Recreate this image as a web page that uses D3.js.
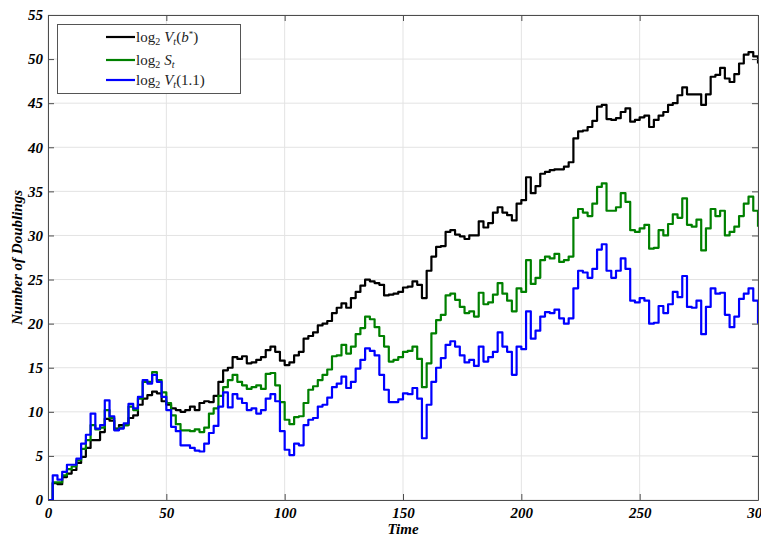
<!DOCTYPE html>
<html><head><meta charset="utf-8">
<script src="https://cdn.jsdelivr.net/npm/d3@7"></script>
<style>
body{margin:0;background:#fff}
.tick text{font-family:"Liberation Serif","Times New Roman",serif;font-weight:bold;font-style:italic;font-size:15px;fill:#000}
</style>
</head><body><svg id="c" width="761" height="536"></svg>
<script>
// time (in steps of 2)
const time = d3.range(0, 301, 2);

const logVbStar = [
 0, 1.9, 1.8, 2.6, 3.0, 3.4, 4.2, 4.9, 5.9, 6.8, 6.8, 7.7, 9.2, 9.0, 8.1, 8.5, 8.5, 9.3, 9.6, 10.8, 11.5, 11.9, 12.3, 12.1, 11.2, 10.8, 10.4, 10.2, 10.0, 10.2, 10.6,
 10.2, 11.0, 11.2, 11.1, 11.8, 13.4, 14.7, 15.0, 16.2, 16.0, 16.3, 15.5, 15.6, 15.9, 16.2, 17.0, 17.4, 16.8, 15.8, 15.3, 15.6, 16.4, 16.8, 18.3, 18.6, 19.0, 19.8, 20.0, 20.3, 21.2,
 21.8, 22.3, 21.8, 22.9, 23.6, 24.3, 25.0, 24.8, 24.6, 24.4, 23.2, 23.3, 23.4, 23.6, 24.1, 24.2, 24.8, 24.4, 22.9, 26.0, 27.6, 28.7, 28.8, 30.4, 30.6, 30.1, 29.9, 29.6, 30.0, 30.0,
 31.6, 30.9, 31.4, 32.6, 33.2, 32.6, 32.3, 31.7, 33.6, 34.0, 36.6, 34.8, 35.6, 37.0, 37.2, 37.4, 37.5, 37.5, 37.8, 38.3, 41.0, 41.8, 41.9, 42.3, 43.0, 44.6, 44.8, 43.2, 43.1, 43.3,
 44.0, 44.4, 42.9, 43.1, 43.4, 43.6, 42.3, 43.1, 43.6, 44.0, 44.8, 45.0, 45.9, 46.8, 46.0, 46.0, 46.0, 44.8, 46.0, 48.0, 48.2, 49.0, 47.8, 47.4, 48.3, 49.5, 50.5, 50.8, 50.3, 49.5
];
const logS = [
 0, 2.0, 2.0, 2.8, 3.5, 3.8, 4.5, 5.8, 6.8, 8.5, 8.0, 8.2, 10.2, 9.3, 8.0, 8.2, 8.5, 10.6, 10.2, 11.5, 13.4, 13.4, 14.5, 13.6, 12.2, 11.0, 9.6, 8.6, 7.9, 7.9, 7.8,
 8.0, 7.7, 8.2, 9.8, 10.4, 11.8, 12.8, 13.6, 14.2, 13.4, 13.0, 12.6, 12.8, 13.0, 12.6, 14.3, 14.4, 13.0, 11.1, 9.1, 8.6, 9.4, 9.5, 11.0, 12.5, 12.9, 13.6, 14.2, 14.8, 16.3,
 16.4, 17.6, 16.6, 17.4, 18.8, 19.5, 20.8, 20.5, 19.6, 18.6, 17.4, 15.7, 15.9, 16.2, 16.8, 16.9, 17.4, 16.0, 12.8, 15.5, 18.9, 20.4, 21.0, 23.2, 23.4, 22.7, 21.9, 21.2, 21.4, 20.8,
 23.5, 22.2, 22.4, 23.3, 24.6, 23.4, 22.6, 21.4, 24.0, 23.6, 27.2, 24.5, 25.2, 27.2, 27.6, 27.4, 27.9, 27.0, 27.2, 27.6, 32.0, 33.0, 32.6, 32.2, 33.6, 35.5, 35.9, 32.8, 32.8, 33.2,
 34.8, 33.8, 30.6, 30.4, 30.8, 31.2, 28.5, 28.6, 30.6, 30.0, 31.3, 32.4, 32.0, 34.2, 31.2, 31.0, 31.8, 28.3, 30.8, 33.0, 32.2, 32.8, 30.0, 30.4, 31.0, 32.2, 33.6, 34.4, 32.8, 31.0
];
const logV11 = [
 0, 2.8, 2.3, 3.2, 4.0, 4.0, 4.7, 6.4, 7.4, 9.8, 8.1, 8.5, 11.3, 9.5, 7.9, 8.1, 8.7, 10.9, 10.4, 11.7, 13.6, 13.2, 14.2, 13.4, 11.7, 10.2, 8.3, 7.8, 6.2, 6.2, 5.9,
 5.6, 5.5, 6.4, 7.6, 8.4, 10.6, 12.2, 10.5, 12.0, 11.5, 11.0, 10.2, 10.4, 9.8, 10.2, 11.5, 12.0, 11.2, 7.8, 5.7, 5.1, 6.4, 6.2, 8.5, 9.1, 9.3, 10.6, 10.8, 11.6, 12.8,
 13.2, 14.0, 12.7, 13.4, 14.9, 15.9, 17.2, 16.9, 16.4, 14.2, 12.5, 11.1, 11.1, 11.4, 12.1, 12.0, 12.7, 11.5, 7.0, 10.8, 13.4, 15.0, 16.1, 17.6, 18.0, 17.4, 16.4, 15.6, 15.9, 15.2,
 17.4, 15.7, 16.2, 16.8, 19.0, 17.4, 16.8, 14.2, 17.4, 17.1, 21.4, 18.3, 19.2, 20.8, 21.3, 21.2, 21.6, 20.6, 20.0, 20.6, 24.0, 26.0, 25.8, 25.2, 26.2, 28.4, 29.0, 26.0, 25.2, 26.0,
 27.4, 26.2, 22.6, 22.4, 22.9, 22.6, 20.0, 20.1, 22.0, 21.2, 22.2, 23.6, 23.0, 25.4, 21.9, 21.8, 22.6, 18.8, 21.9, 24.0, 23.4, 23.5, 21.0, 19.6, 20.8, 22.8, 23.4, 24.0, 22.6, 20.0
];

const xTicks = [0, 50, 100, 150, 200, 250, 300];
const yTicks = [0, 5, 10, 15, 20, 25, 30, 35, 40, 45, 50, 55];
const xLabel = "Time";
const yLabel = "Number of Doublings";

const series = [
  {name: "vb", values: logVbStar, color: "#000000"},
  {name: "s", values: logS, color: "#008000"},
  {name: "v11", values: logV11, color: "#0000ff"}
];

const svg = d3.select("#c");
const L = 48, R = 758, T = 15, B = 500;
const x = d3.scaleLinear().domain([0, 300]).range([L, R]);
const y = d3.scaleLinear().domain([0, 55]).range([B, T]);

// grid
const g = svg.append("g");
g.selectAll(".gx").data(xTicks).enter().append("line")
  .attr("x1", d => x(d)).attr("x2", d => x(d)).attr("y1", T).attr("y2", B)
  .attr("stroke", "#e3e3e3").attr("stroke-width", 1);
g.selectAll(".gy").data(yTicks).enter().append("line")
  .attr("x1", L).attr("x2", R).attr("y1", d => y(d)).attr("y2", d => y(d))
  .attr("stroke", "#e3e3e3").attr("stroke-width", 1);

// lines
svg.append("clipPath").attr("id", "clip").append("rect")
  .attr("x", L).attr("y", T).attr("width", R - L).attr("height", B - T);
const line = d3.line().x((d, i) => x(time[i])).y(d => y(d)).curve(d3.curveStepAfter);
svg.append("g").attr("clip-path", "url(#clip)").selectAll("path").data(series).enter().append("path")
  .attr("d", d => line(d.values)).attr("fill", "none")
  .attr("stroke", d => d.color).attr("stroke-width", 2.2).attr("stroke-linejoin", "round");

// axes
const axColor = "#4d4d4d";
function styleAxis(sel) {
  sel.select(".domain").attr("stroke", axColor);
  sel.selectAll(".tick line").attr("stroke", axColor);
}
svg.append("g").attr("transform", `translate(0,${B})`)
  .call(d3.axisBottom(x).tickValues(xTicks).tickSizeInner(-6).tickSizeOuter(0).tickPadding(7).tickFormat(d3.format("d")))
  .call(styleAxis);
svg.append("g").attr("transform", `translate(${L},0)`)
  .call(d3.axisLeft(y).tickValues(yTicks).tickSizeInner(-6).tickSizeOuter(0).tickPadding(5).tickFormat(d3.format("d")))
  .call(styleAxis);
svg.append("g").attr("transform", `translate(0,${T})`)
  .call(d3.axisTop(x).tickValues(xTicks).tickSizeInner(-6).tickSizeOuter(0).tickFormat(""))
  .call(styleAxis);
svg.append("g").attr("transform", `translate(${R},0)`)
  .call(d3.axisRight(y).tickValues(yTicks).tickSizeInner(-6).tickSizeOuter(0).tickFormat(""))
  .call(styleAxis);

// axis labels
svg.append("text").attr("x", (L + R) / 2).attr("y", 534).attr("text-anchor", "middle")
  .attr("font-family", "Liberation Serif, serif").attr("font-weight", "bold").attr("font-style", "italic")
  .attr("font-size", 15).text(xLabel);
svg.append("text").attr("transform", `translate(22,${(T + B) / 2}) rotate(-90)`).attr("text-anchor", "middle")
  .attr("font-family", "Liberation Serif, serif").attr("font-weight", "bold").attr("font-style", "italic")
  .attr("font-size", 15).text(yLabel);

// legend
const lg = svg.append("g");
lg.append("rect").attr("x", 57.5).attr("y", 24.5).attr("width", 183).attr("height", 69)
  .attr("fill", "#fff").attr("stroke", "#555").attr("stroke-width", 1);
const legY = [37, 60, 80];
const fam = "Liberation Serif, DejaVu Serif, serif";
series.forEach((s, i) => {
  lg.append("line").attr("x1", 106).attr("x2", 135).attr("y1", legY[i]).attr("y2", legY[i])
    .attr("stroke", s.color).attr("stroke-width", 2.2);
  const t = lg.append("text").attr("x", 136).attr("y", legY[i] + 5)
    .attr("font-family", fam).attr("font-size", 15).attr("fill", "#222");
  t.append("tspan").text("log");
  t.append("tspan").attr("font-size", 10).attr("dy", 3).text("2");
  if (i === 1) {
    t.append("tspan").attr("dy", -3).attr("dx", 4).attr("font-style", "italic").text("S");
    t.append("tspan").attr("font-size", 10).attr("dy", 3).attr("font-style", "italic").text("t");
  } else {
    t.append("tspan").attr("dy", -3).attr("dx", 4).attr("font-style", "italic").text("V");
    t.append("tspan").attr("font-size", 10).attr("dy", 3).attr("font-style", "italic").text("t");
    if (i === 0) {
      t.append("tspan").attr("dy", -3).text("(");
      t.append("tspan").attr("font-style", "italic").text("b");
      t.append("tspan").attr("font-size", 9).attr("dy", -5).text("*");
      t.append("tspan").attr("dy", 5).text(")");
    } else {
      t.append("tspan").attr("dy", -3).text("(1.1)");
    }
  }
});
</script>
</body></html>
